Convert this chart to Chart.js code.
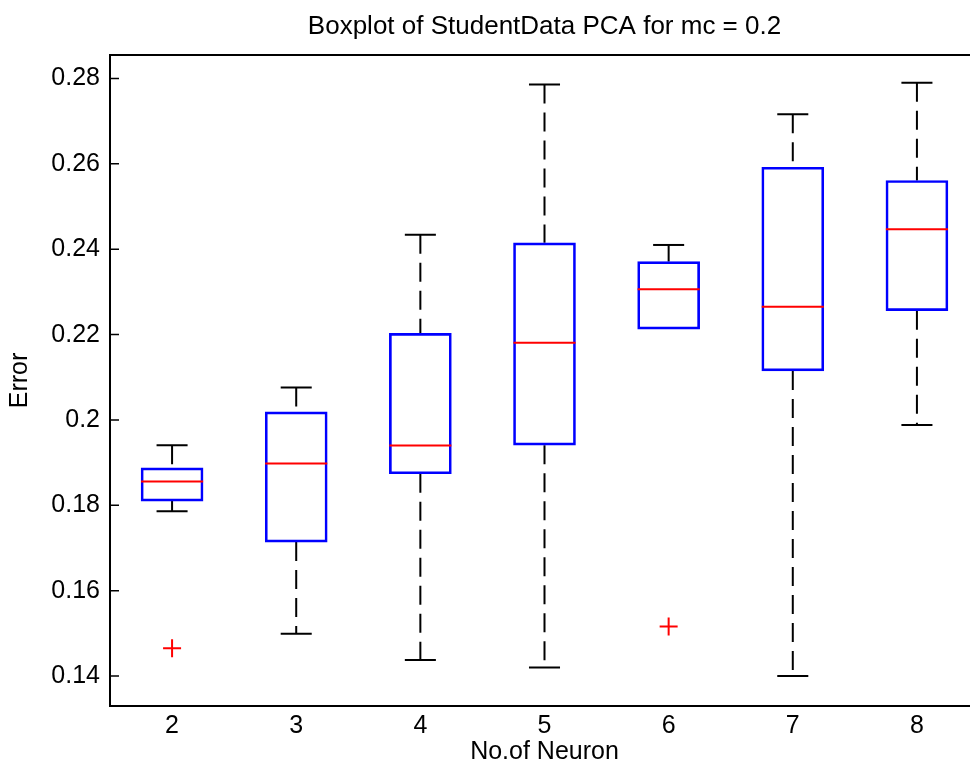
<!DOCTYPE html>
<html>
<head>
<meta charset="utf-8">
<script src="https://cdn.jsdelivr.net/npm/chart.js@4.4.1/dist/chart.umd.min.js"></script>
<style>
  html, body { margin: 0; padding: 0; background: #fff; overflow: hidden; }
  #wrap { position: relative; width: 990px; height: 767px; }
</style>
</head>
<body>
<div id="wrap"><canvas id="c"></canvas></div>
<script>
// ---- data ----
const categories   = [2, 3, 4, 5, 6, 7, 8];
const whiskerLow   = [0.1786, 0.1499, 0.1438, 0.1420, 0.2213, 0.1400, 0.1988];
const quartile1    = [0.1810, 0.1714, 0.1874, 0.1941, 0.2213, 0.2115, 0.2256];
const medians      = [0.1856, 0.1898, 0.1940, 0.2181, 0.2306, 0.2265, 0.2447];
const quartile3    = [0.1888, 0.2019, 0.2203, 0.2415, 0.2371, 0.2592, 0.2561];
const whiskerHigh  = [0.1941, 0.2076, 0.2434, 0.2786, 0.2410, 0.2716, 0.2790];
const outlierX     = [2, 6];
const outlierY     = [0.1465, 0.1516];
const yTickValues  = [0.14, 0.16, 0.18, 0.2, 0.22, 0.24, 0.26, 0.28];
const titleText    = 'Boxplot of StudentData PCA for mc = 0.2';
const xTitleText   = 'No.of Neuron';
const yTitleText   = 'Error';

const FONT = "'Liberation Sans', Arial, Helvetica, sans-serif";

const boxData = categories.map((c, i) => ({ x: c, y: [quartile1[i], quartile3[i]] }));
const outlierData = outlierX.map((x, i) => ({ x: x, y: outlierY[i] }));

const boxPlugin = {
  id: 'boxParts',
  beforeDatasetsDraw(chart) {
    const ctx = chart.ctx, xs = chart.scales.x, ys = chart.scales.y;
    const capHalf = (xs.getPixelForValue(2.125) - xs.getPixelForValue(2));
    ctx.save();
    categories.forEach((c, i) => {
      const px = xs.getPixelForValue(c);
      const yLo = ys.getPixelForValue(whiskerLow[i]);
      const yQ1 = ys.getPixelForValue(quartile1[i]);
      const yQ3 = ys.getPixelForValue(quartile3[i]);
      const yHi = ys.getPixelForValue(whiskerHigh[i]);
      ctx.strokeStyle = '#000';
      ctx.lineWidth = 2;
      ctx.setLineDash([19, 9]);
      ctx.beginPath();
      ctx.moveTo(px, yHi); ctx.lineTo(px, yQ3);
      if (whiskerLow[i] < quartile1[i]) { ctx.moveTo(px, yQ1); ctx.lineTo(px, yLo); }
      ctx.stroke();
      ctx.setLineDash([]);
      ctx.beginPath();
      ctx.moveTo(px - capHalf, yHi); ctx.lineTo(px + capHalf, yHi);
      if (whiskerLow[i] < quartile1[i]) { ctx.moveTo(px - capHalf, yLo); ctx.lineTo(px + capHalf, yLo); }
      ctx.stroke();
    });
    ctx.restore();
  },
  afterDatasetsDraw(chart) {
    const ctx = chart.ctx, xs = chart.scales.x, ys = chart.scales.y;
    const half = (xs.getPixelForValue(2.25) - xs.getPixelForValue(2));
    ctx.save();
    ctx.strokeStyle = '#ff0000';
    ctx.lineWidth = 2;
    categories.forEach((c, i) => {
      const px = xs.getPixelForValue(c);
      const py = ys.getPixelForValue(medians[i]);
      ctx.beginPath();
      ctx.moveTo(px - half, py); ctx.lineTo(px + half, py);
      ctx.stroke();
    });
    ctx.restore();
  },
  afterDraw(chart) {
    const ctx = chart.ctx, a = chart.chartArea, ys = chart.scales.y;
    ctx.save();
    ctx.strokeStyle = '#000';
    ctx.lineWidth = 2;
    ctx.strokeRect(a.left, a.top, a.right - a.left, a.bottom - a.top);
    ctx.lineWidth = 1.5;
    ys.ticks.forEach(t => {
      const py = ys.getPixelForValue(t.value);
      ctx.beginPath();
      ctx.moveTo(a.left, py); ctx.lineTo(a.left + 9, py);
      ctx.moveTo(a.right, py); ctx.lineTo(a.right - 9, py);
      ctx.stroke();
    });
    ctx.restore();
  }
};

new Chart(document.getElementById('c'), {
  type: 'bar',
  data: {
    datasets: [
      {
        type: 'bar',
        data: boxData,
        backgroundColor: 'rgba(0,0,0,0)',
        borderColor: '#0000ff',
        borderWidth: 2,
        borderSkipped: false,
        barThickness: 62,
        order: 2
      },
      {
        type: 'scatter',
        data: outlierData,
        pointStyle: 'cross',
        radius: 9,
        borderColor: '#ff0000',
        borderWidth: 2,
        order: 1
      }
    ]
  },
  options: {
    responsive: true,
    maintainAspectRatio: false,
    animation: false,
    layout: { padding: { left: 0, right: 11, top: 0, bottom: 0 } },
    plugins: {
      legend: { display: false },
      tooltip: { enabled: false },
      title: {
        display: true,
        text: titleText,
        fullSize: false,
        color: '#000',
        font: { family: FONT, size: 26, weight: 'normal' },
        padding: { top: 11, bottom: 12.8 }
      }
    },
    scales: {
      x: {
        type: 'linear',
        offset: false,
        min: 1.5,
        max: 8.5,
        afterBuildTicks: s => { s.ticks = categories.map(v => ({ value: v })); },
        afterFit: s => { s.height = 61; },
        grid: { display: false, drawTicks: false },
        border: { display: false },
        ticks: {
          color: '#000',
          font: { family: FONT, size: 25 },
          padding: 5,
          autoSkip: false,
          maxRotation: 0,
          callback: v => String(v)
        },
        title: {
          display: true,
          text: xTitleText,
          color: '#000',
          font: { family: FONT, size: 25 },
          padding: { top: 0, bottom: 0 }
        }
      },
      y: {
        type: 'linear',
        min: 0.133,
        max: 0.2855,
        afterBuildTicks: s => { s.ticks = yTickValues.map(v => ({ value: v })); },
        afterFit: s => { s.width = 110; },
        grid: { display: false, drawTicks: false },
        border: { display: false },
        ticks: {
          color: '#000',
          font: { family: FONT, size: 25 },
          padding: 10,
          callback: v => String(Number(v.toFixed(2)))
        },
        title: {
          display: true,
          text: yTitleText,
          color: '#000',
          font: { family: FONT, size: 25 },
          padding: { top: 5, bottom: 0 }
        }
      }
    }
  },
  plugins: [boxPlugin]
});
</script>
</body>
</html>
